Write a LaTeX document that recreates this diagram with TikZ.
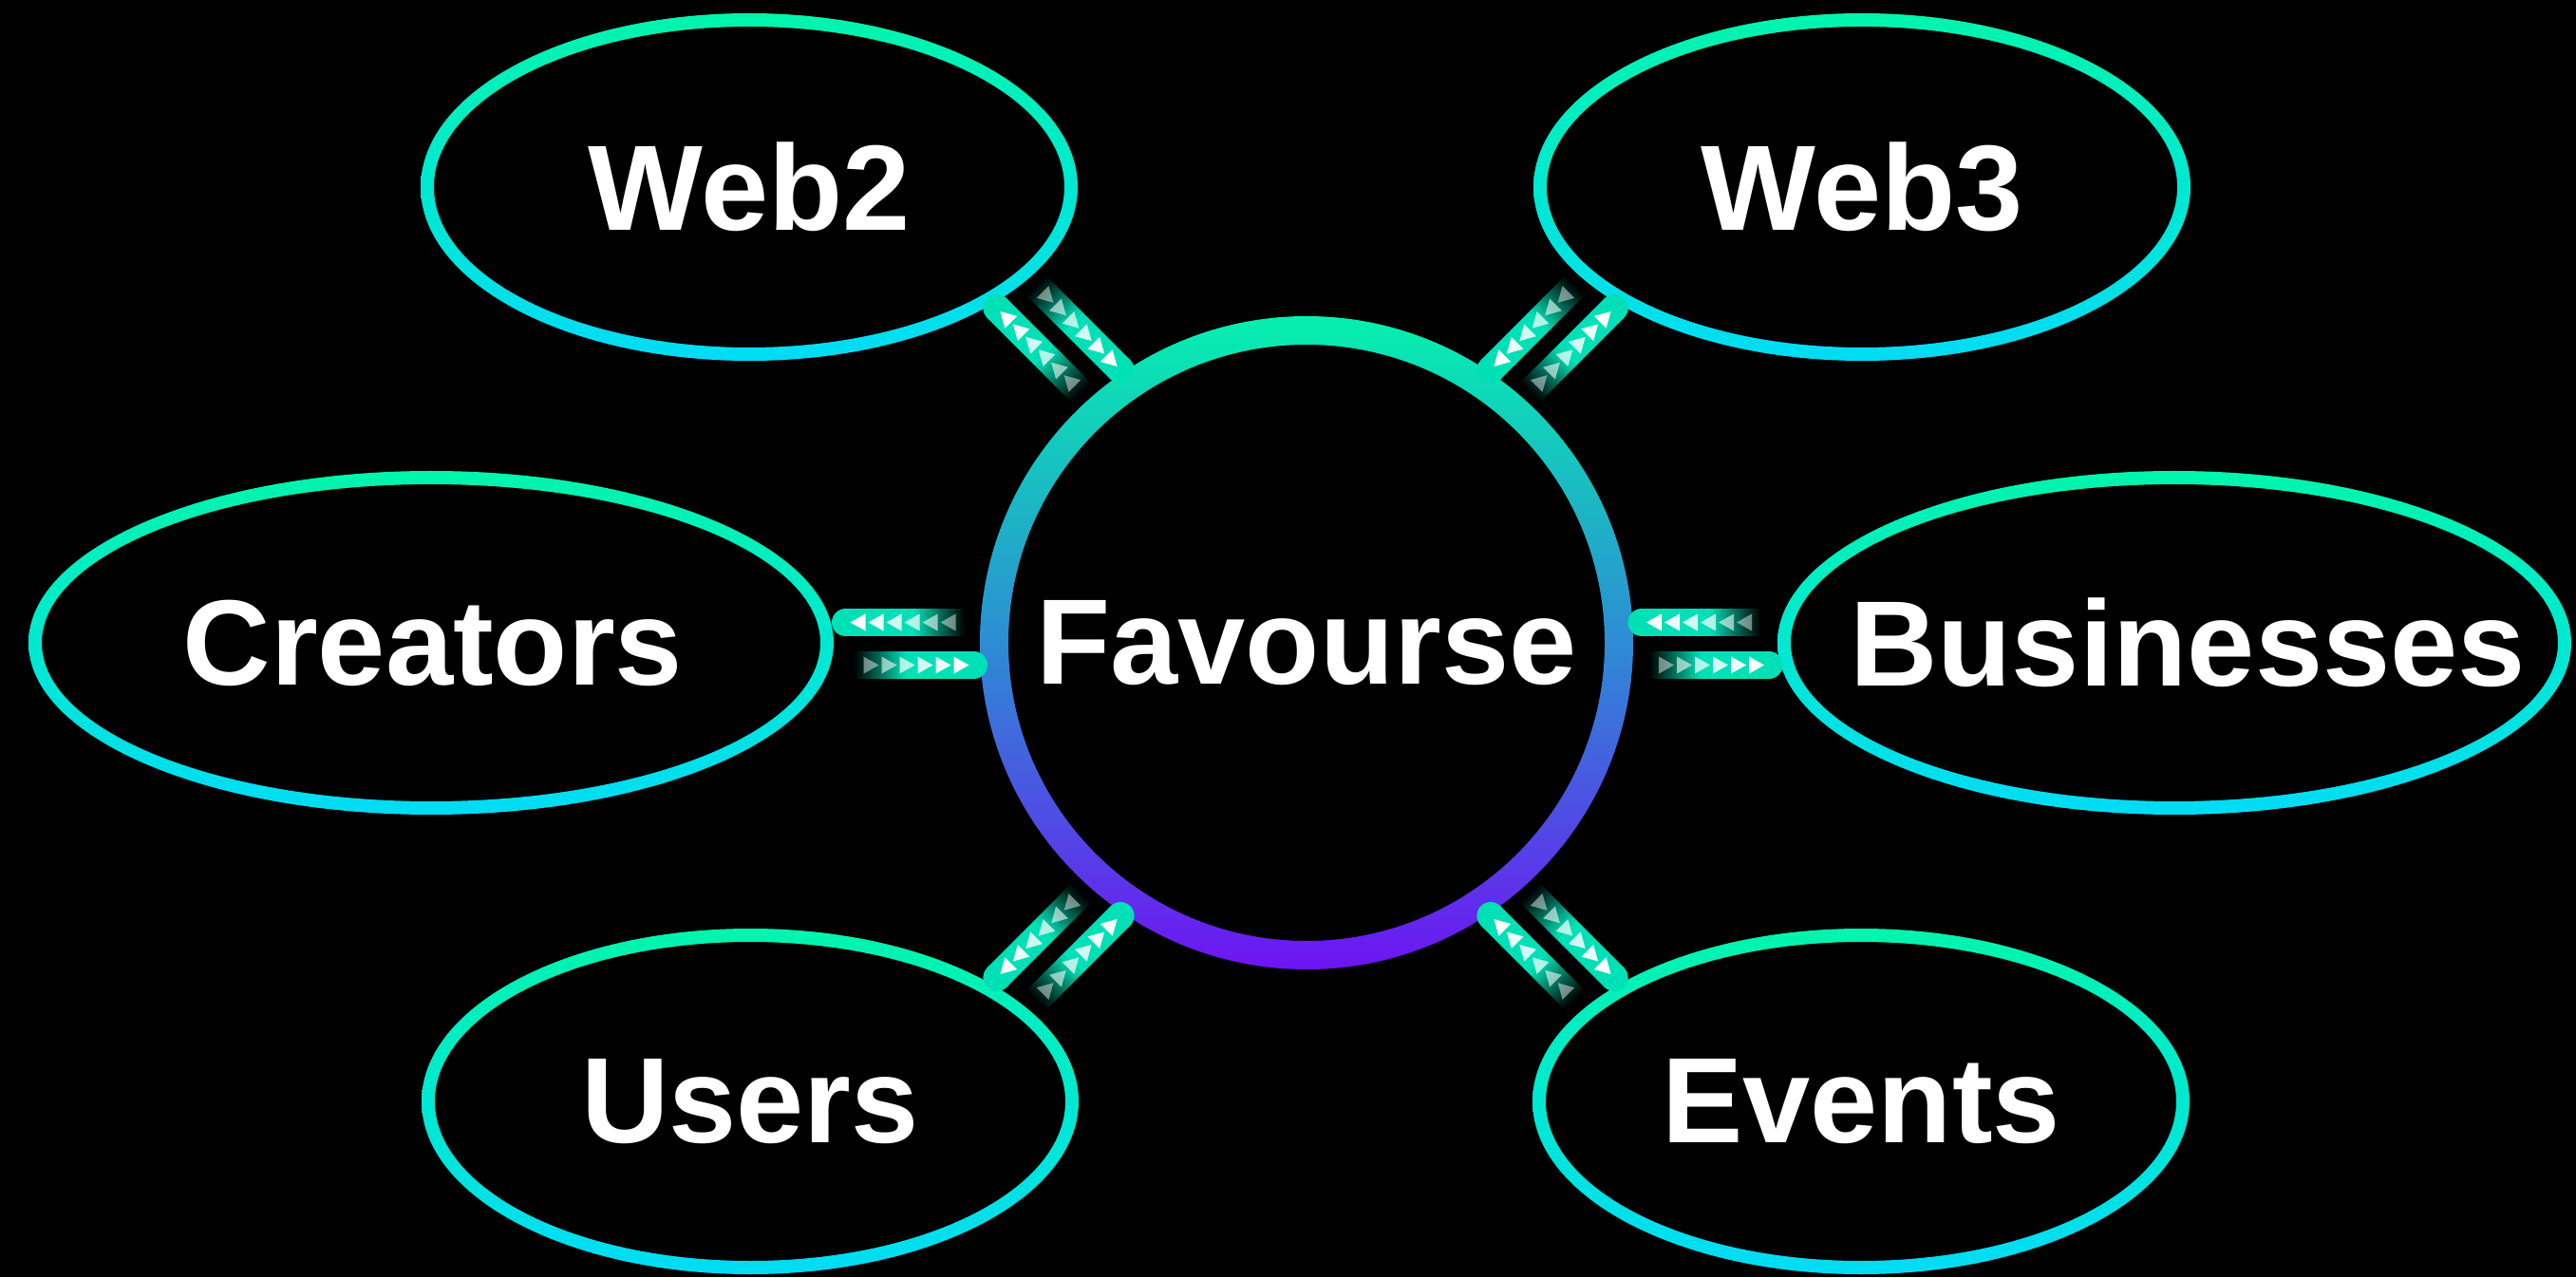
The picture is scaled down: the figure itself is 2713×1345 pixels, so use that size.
\documentclass[tikz,border=0pt]{standalone}
\usepackage{fontspec}
\setmainfont{Liberation Sans}
\definecolor{ringtop}{RGB}{0,245,172}
\definecolor{ringbot}{RGB}{0,220,245}
\definecolor{ctop}{RGB}{5,240,175}
\definecolor{cmid}{RGB}{45,140,212}
\definecolor{cbot}{RGB}{110,20,242}
\definecolor{barcol}{RGB}{0,224,182}
\tikzset{
  lbl/.style={text=white, font=\fontsize{128}{140}\selectfont\bfseries, inner sep=0pt},
  ringshade/.style={even odd rule, top color=ringtop, bottom color=ringbot},
  hubshade/.style={even odd rule, top color=ctop, bottom color=cbot, middle color=cmid},
  barfill/.style={fill=barcol},
  tri/.style={fill=white}
}
\newcommand\flowbar[2]{%
  \begin{scope}[shift={(#1)}, rotate=#2]
    \fill[barfill] (0,0) circle (14.5pt);
    \fill[barfill] (0,-14.5) rectangle (72,14.5);
    \foreach \i in {0,...,17}{
      \pgfmathtruncatemacro\p{100-100*(\i+0.5)/18}
      \fill[barcol!\p!black] ({72+3*\i},-14.5) rectangle ({72+3*\i+3.4},14.5);
    }
    \foreach \k/\o in {0/1,1/0.92,2/0.82,3/0.7,4/0.58,5/0.45}{
      \fill[tri, fill opacity=\o] ({5+19*\k},0) -- ({21+19*\k},9) -- ({21+19*\k},-9) -- cycle;
    }
  \end{scope}}
\begin{document}
\begin{tikzpicture}[x=1pt,y=1pt]
\useasboundingbox (0,0) rectangle (2713,1345);
\fill[black] (0,0) rectangle (2713,1345);

% nodes
\node[lbl] (fav) at (1376,668) {Favourse};
\node[lbl] (web2) at (789,1148) {Web2};
\node[lbl] (web3) at (1961,1148) {Web3};
\node[lbl] (cre) at (456,668) {Creators};
\node[lbl] (bus) at (2304,668) {Businesses};
\node[lbl] (usr) at (790,185) {Users};
\node[lbl] (evt) at (1960,185) {Events};

% rings
\shade[hubshade] (fav.center) circle (344pt) (fav.center) circle (314pt);
\shade[ringshade] (web2.center) ellipse [x radius=346pt, y radius=183pt] (web2.center) ellipse [x radius=332pt, y radius=169pt];
\shade[ringshade] (web3.center) ellipse [x radius=346pt, y radius=183pt] (web3.center) ellipse [x radius=332pt, y radius=169pt];
\shade[ringshade] (usr.center) ellipse [x radius=346pt, y radius=182pt] (usr.center) ellipse [x radius=332pt, y radius=168pt];
\shade[ringshade] (evt.center) ellipse [x radius=346pt, y radius=182pt] (evt.center) ellipse [x radius=332pt, y radius=168pt];
\shade[ringshade] ([xshift=-2pt]cre.center) ellipse [x radius=424pt, y radius=181pt] ([xshift=-2pt]cre.center) ellipse [x radius=410pt, y radius=167pt];
\shade[ringshade] ([xshift=-14pt]bus.center) ellipse [x radius=418pt, y radius=181pt] ([xshift=-14pt]bus.center) ellipse [x radius=404pt, y radius=167pt];

% connector heads
\coordinate (creO) at (890.5,689.5);
\coordinate (creI) at (1025.5,644.5);
\coordinate (busO) at (1863,644.5);
\coordinate (busI) at (1729,689.5);
\coordinate (w2O) at (1049.9,1020.5);
\coordinate (w2I) at (1180.1,955.5);
\coordinate (w3O) at (1700.1,1020.5);
\coordinate (w3I) at (1569.9,955.5);
\coordinate (usO) at (1049.9,315.5);
\coordinate (usI) at (1180.1,380.5);
\coordinate (evO) at (1700.1,315.5);
\coordinate (evI) at (1569.9,380.5);

\flowbar{creO}{0}
\flowbar{creI}{180}
\flowbar{busO}{180}
\flowbar{busI}{0}
\flowbar{w2O}{-45}
\flowbar{w2I}{135}
\flowbar{w3O}{-135}
\flowbar{w3I}{45}
\flowbar{usO}{45}
\flowbar{usI}{-135}
\flowbar{evO}{135}
\flowbar{evI}{-45}
\end{tikzpicture}
\end{document}
